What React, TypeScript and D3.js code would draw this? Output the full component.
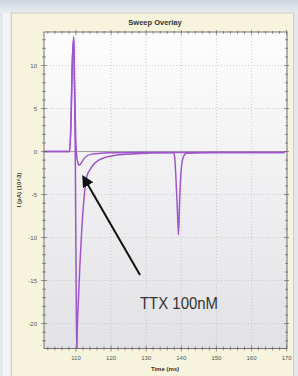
import React from 'react';
import * as d3 from 'd3';

// sweep 1 (control): [time ms, current pA x10^3]
const controlTimes = [101, 108.2, 108.6, 108.9, 109.35, 109.55, 109.8, 110.05, 110.25, 110.4, 110.7, 111.1, 111.6, 112.1, 112.6, 113.1, 114, 115, 116.5, 118.5, 121, 125, 130, 135, 137.7, 138.1, 138.4, 138.9, 139.2, 139.5, 139.9, 140.6, 141.5, 150, 169.5];
const controlValues = [0, 0, 3.7, 9.5, 13.4, 8, 0, -15, -23.5, -20.4, -17.3, -13.4, -9.5, -6.4, -4.2, -2.9, -2.1, -1.5, -1.0, -0.65, -0.45, -0.3, -0.2, -0.15, -0.15, -0.6, -2.5, -7, -9.7, -6, -2.5, -0.6, -0.2, -0.1, -0.1];

// sweep 2 (TTX 100nM)
const ttxTimes = [101, 108.2, 108.6, 108.9, 109.4, 109.6, 109.9, 110.2, 110.5, 110.85, 111.3, 112, 113, 114.5, 117, 120, 130, 169.5];
const ttxValues = [0, 0, 3.7, 9.5, 13.2, 8, 2, -0.5, -1.2, -1.6, -1.45, -1.0, -0.55, -0.3, -0.2, -0.15, -0.1, -0.1];

const xTicks = [110, 120, 130, 140, 150, 160, 170];
const yTicks = [-20, -15, -10, -5, 0, 5, 10];

const W = 298;
const H = 376;
const plot = { left: 44, right: 287, top: 32, bottom: 348.5 };

export default function App() {
  const x = d3.scaleLinear().domain([100.9, 170.1]).range([plot.left, plot.right]);
  const y = d3.scaleLinear().domain([-22.9, 13.9]).range([plot.bottom, plot.top]);

  const line = d3
    .line<[number, number]>()
    .x(d => x(d[0]))
    .y(d => y(d[1]))
    .curve(d3.curveMonotoneX);

  const control = controlTimes.map((t, i) => [t, controlValues[i]] as [number, number]);
  const ttx = ttxTimes.map((t, i) => [t, ttxValues[i]] as [number, number]);

  const xMinor = d3.range(102, 170.1, 2);
  const yMinor = d3.range(-22, 13.1, 1);

  const tickFont = { fontFamily: 'Liberation Sans, Arial, sans-serif', fontSize: 6, fill: '#555' };

  return (
    <svg width={W} height={H} style={{ position: 'absolute', left: 0, top: 0 }}>
      <defs>
        <linearGradient id="topbar" x1="0" y1="0" x2="0" y2="1">
          <stop offset="0" stopColor="#cdd5de" />
          <stop offset="1" stopColor="#e9edf1" />
        </linearGradient>
        <linearGradient id="plotbg" x1="0" y1="0" x2="0" y2="1">
          <stop offset="0" stopColor="#fdfdfd" />
          <stop offset="1" stopColor="#e2e2e6" />
        </linearGradient>
        <clipPath id="clip">
          <rect x={plot.left} y={plot.top} width={plot.right - plot.left} height={plot.bottom - plot.top} />
        </clipPath>
        <marker id="head" viewBox="0 0 10 10" refX="7" refY="5" markerWidth="6" markerHeight="6" orient="auto">
          <path d="M0,0 L10,5 L0,10 z" fill="#111" />
        </marker>
      </defs>

      {/* window frame */}
      <rect x={0} y={0} width={W} height={H} fill="#e4e8ed" />
      <rect x={0} y={0} width={W} height={13} fill="url(#topbar)" />
      <rect x={3} y={13} width={7} height={H} fill="#f2f4f7" />
      <rect x={11.5} y={13} width={282} height={H} fill="#f6f4dc" stroke="#c9c9b8" strokeWidth={0.8} />

      <text x={155} y={25} textAnchor="middle" fontFamily="Liberation Sans, Arial, sans-serif" fontSize={7.5} fontWeight="bold" fill="#333">
        Sweep Overlay
      </text>

      {/* plot area */}
      <rect x={plot.left} y={plot.top} width={plot.right - plot.left} height={plot.bottom - plot.top} fill="url(#plotbg)" />

      {xTicks.map(t => (
        <line key={'gx' + t} x1={x(t)} x2={x(t)} y1={plot.top} y2={plot.bottom} stroke="#c4c4c4" strokeWidth={0.8} strokeDasharray="1,2" />
      ))}
      {yTicks.map(t => (
        <line key={'gy' + t} x1={plot.left} x2={plot.right} y1={y(t)} y2={y(t)} stroke="#c4c4c4" strokeWidth={0.8} strokeDasharray="1,2" />
      ))}

      {/* zero reference */}
      <line x1={plot.left} x2={plot.right} y1={y(0)} y2={y(0)} stroke="#8a8a8a" strokeWidth={0.8} />

      <g clipPath="url(#clip)" fill="none" strokeLinejoin="round">
        <path d={line(ttx) || ''} stroke="#a055cc" strokeWidth={1.5} />
        <path d={line(control) || ''} stroke="#a055cc" strokeWidth={1.5} />
      </g>

      <rect x={plot.left} y={plot.top} width={plot.right - plot.left} height={plot.bottom - plot.top} fill="none" stroke="#555" strokeWidth={0.8} />

      {/* ticks */}
      {xMinor.map(t => {
        const major = xTicks.includes(t);
        const len = major ? 3 : 2;
        return (
          <g key={'tx' + t} stroke="#555" strokeWidth={0.6}>
            <line x1={x(t)} x2={x(t)} y1={plot.bottom - len} y2={plot.bottom + len} />
            <line x1={x(t)} x2={x(t)} y1={plot.top - len + 1} y2={plot.top + len} />
          </g>
        );
      })}
      {yMinor.map(t => {
        const major = yTicks.includes(t);
        const len = major ? 3 : 2;
        return (
          <g key={'ty' + t} stroke="#555" strokeWidth={0.6}>
            <line x1={plot.left - len} x2={plot.left + len} y1={y(t)} y2={y(t)} />
            <line x1={plot.right - len} x2={plot.right + len - 1} y1={y(t)} y2={y(t)} />
          </g>
        );
      })}

      {xTicks.map(t => (
        <text key={'lx' + t} x={x(t)} y={360} textAnchor="middle" {...tickFont}>
          {t}
        </text>
      ))}
      {yTicks.map(t => (
        <text key={'ly' + t} x={37} y={y(t) + 2} textAnchor="end" {...tickFont}>
          {t}
        </text>
      ))}

      <text x={165} y={370.5} textAnchor="middle" fontFamily="Liberation Sans, Arial, sans-serif" fontSize={6} fontWeight="bold" fill="#333">
        Time (ms)
      </text>
      <text
        transform={`translate(21,190) rotate(-90)`}
        textAnchor="middle"
        fontFamily="Liberation Sans, Arial, sans-serif"
        fontSize={6}
        fontWeight="bold"
        fill="#333"
      >
        I (pA) (10^3)
      </text>

      {/* annotation */}
      <line x1={140} y1={275} x2={84} y2={178} stroke="#111" strokeWidth={2} markerEnd="url(#head)" />
      <text x={140} y={309} fontFamily="Liberation Sans, Arial, sans-serif" fontSize={16} fill="#333" textLength={78} lengthAdjust="spacingAndGlyphs">
        TTX 100nM
      </text>
    </svg>
  );
}
